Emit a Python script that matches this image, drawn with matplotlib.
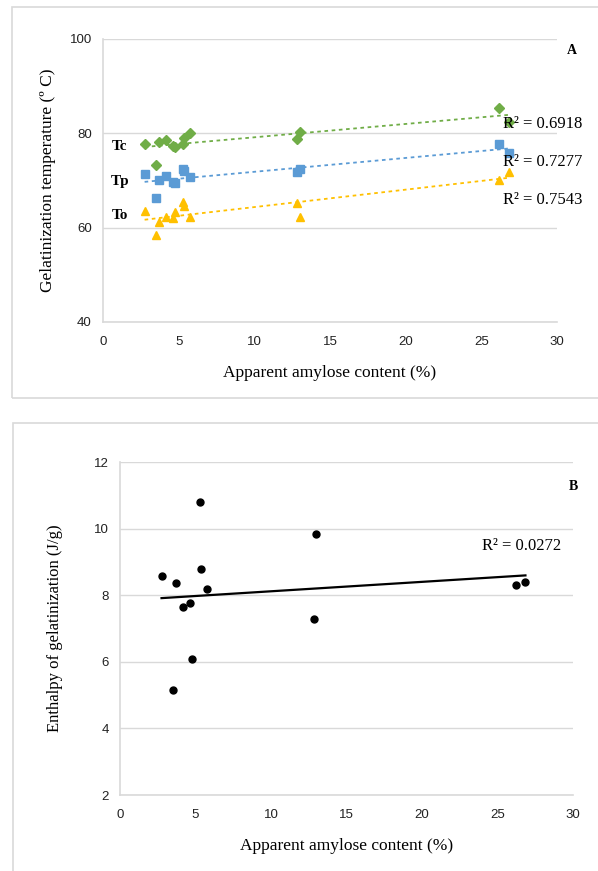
import numpy as np
import matplotlib.pyplot as plt
from matplotlib.patches import Rectangle

# apparent amylose content (%) of the 13 samples
amylose = [2.75, 3.5, 3.7, 4.15, 4.65, 4.75, 5.3, 5.35, 5.75, 12.85, 13.0, 26.2, 26.85]

# gelatinization temperatures (ºC)
Tc = [77.7, 73.3, 78.2, 78.6, 77.3, 77.0, 77.7, 79.1, 80.1, 78.8, 80.3, 85.3, 82.5]
Tp = [71.3, 66.2, 70.0, 71.0, 69.6, 69.4, 72.4, 72.0, 70.8, 71.8, 72.5, 77.8, 75.9]
To = [63.5, 58.4, 61.2, 62.3, 62.0, 63.4, 65.4, 64.5, 62.3, 65.3, 62.3, 70.2, 71.8]

# enthalpy of gelatinization (J/g)
dH = [8.57, 5.16, 8.36, 7.65, 7.76, 6.09, 10.80, 8.80, 8.18, 7.30, 9.85, 8.30, 8.39]

r2_A = ['R² = 0.6918', 'R² = 0.7277', 'R² = 0.7543']
r2_B = 'R² = 0.0272'

SERIF = 'Liberation Serif'
SANS = 'Liberation Sans'
GRID = '#D9D9D9'

fig = plt.figure(figsize=(5.98, 8.71), dpi=100)

# panel frames
fig.patches.append(Rectangle((12/598, 1-398/871), 0.99, (398-7)/871, transform=fig.transFigure,
                             fill=False, ec='#D9D9D9', lw=1.2))
fig.patches.append(Rectangle((13/598, -0.01), 0.99, 1-423/871+0.01, transform=fig.transFigure,
                             fill=False, ec='#D9D9D9', lw=1.2))


def style(ax, xlim, ylim, yticks):
    ax.set_xlim(*xlim)
    ax.set_ylim(*ylim)
    ax.set_xticks(range(0, 31, 5))
    ax.set_yticks(yticks)
    ax.grid(axis='y', color=GRID, lw=1)
    ax.set_axisbelow(True)
    for s in ['top', 'right']:
        ax.spines[s].set_visible(False)
    for s in ['left', 'bottom']:
        ax.spines[s].set_color(GRID)
        ax.spines[s].set_linewidth(1.2)
    ax.tick_params(length=0, labelsize=9.5, labelcolor='#222222')
    ax.tick_params(axis='x', pad=10)
    ax.tick_params(axis='y', pad=8)
    for lab in ax.get_xticklabels() + ax.get_yticklabels():
        lab.set_fontfamily(SANS)


def trend(ax, x, y, **kw):
    x = np.asarray(x)
    m, b = np.polyfit(x, y, 1)
    xx = np.array([x.min(), x.max()])
    ax.plot(xx, m*xx + b, **kw)


#%% panel A
axA = fig.add_axes([103/598, 1-322/871, (557-103)/598, (322-39)/871])
style(axA, (0, 30), (40, 100), [40, 60, 80, 100])

series = [(Tc, '#70AD47', 'D', 5), (Tp, '#5B9BD5', 's', 6), (To, '#FFC000', '^', 6)]
for vals, col, mk, ms in series:
    axA.plot(amylose, vals, ls='none', marker=mk, color=col, ms=ms, zorder=3)
    trend(axA, amylose, vals, color=col, ls=(0, (2, 2)), lw=1.3, zorder=2)

for lab, yv in zip(['Tc', 'Tp', 'To'], [77.2, 69.8, 62.5]):
    axA.text(1.1, yv, lab, fontfamily=SERIF, fontweight='bold', fontsize=11,
             ha='center', va='center')

for txt, yv in zip(r2_A, [81.9, 73.85, 65.8]):
    axA.text(26.4, yv, txt, fontfamily=SERIF, fontsize=12, ha='left', va='center', clip_on=False)

axA.set_xlabel('Apparent amylose content (%)', fontfamily=SERIF, fontsize=12.5, labelpad=12)
axA.set_ylabel('Gelatinization temperature (º C)', fontfamily=SERIF, fontsize=12.5, labelpad=10)
fig.text(572/598, 1-50/871, 'A', fontfamily=SERIF, fontweight='bold', fontsize=10,
         ha='center', va='center')

#%% panel B
axB = fig.add_axes([120/598, 1-795/871, (573-120)/598, (795-462)/871])
style(axB, (0, 30), (2, 12), range(2, 13, 2))

axB.plot(amylose, dH, ls='none', marker='o', color='black', ms=5, zorder=3)
trend(axB, amylose, dH, color='black', lw=1.6, zorder=2)
axB.text(24.0, 9.49, r2_B, fontfamily=SERIF, fontsize=12, ha='left', va='center')

axB.set_xlabel('Apparent amylose content (%)', fontfamily=SERIF, fontsize=12.5, labelpad=12)
axB.set_ylabel('Enthalpy of gelatinization (J/g)', fontfamily=SERIF, fontsize=12, labelpad=22)
fig.text(573/598, 1-486/871, 'B', fontfamily=SERIF, fontweight='bold', fontsize=10,
         ha='center', va='center')

fig.savefig('out.png', dpi=100)
